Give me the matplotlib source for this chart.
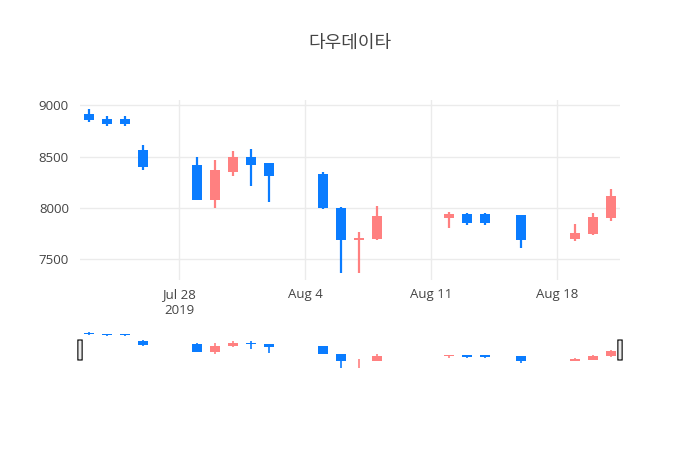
import matplotlib
matplotlib.use('Agg')
import matplotlib.pyplot as plt
import matplotlib.dates as mdates
from matplotlib.patches import FancyBboxPatch
import datetime as dt

plt.rcParams['font.family'] = ['Open Sans', 'Noto Sans CJK KR', 'DejaVu Sans']

dates = ['2019-07-23','2019-07-24','2019-07-25','2019-07-26','2019-07-29','2019-07-30',
         '2019-07-31','2019-08-01','2019-08-02','2019-08-05','2019-08-06','2019-08-07',
         '2019-08-08','2019-08-12','2019-08-13','2019-08-14','2019-08-16','2019-08-19',
         '2019-08-20','2019-08-21']
opens  = [8910,8870,8870,8560,8420,8080,8350,8500,8440,8330,8000,7690,7700,7900,7940,7940,7930,7700,7750,7900]
highs  = [8960,8890,8890,8610,8500,8470,8550,8570,8440,8350,8010,7770,8020,7960,7950,7950,7930,7840,7950,8180]
lows   = [8835,8800,8800,8370,8080,8000,8310,8210,8060,7990,7370,7370,7690,7810,7830,7830,7615,7680,7740,7870]
closes = [8860,8820,8820,8400,8080,8370,8500,8420,8310,8000,7690,7710,7920,7940,7850,7850,7690,7760,7910,8120]

INC = '#ff8080'
DEC = '#0a7cff'
TXT = '#444444'

x = [mdates.date2num(dt.datetime.strptime(d, '%Y-%m-%d')) for d in dates]
xmin = mdates.date2num(dt.datetime(2019, 7, 22, 12))
xmax = mdates.date2num(dt.datetime(2019, 8, 21, 12))

fig = plt.figure(figsize=(7, 4.5), dpi=100)
ax = fig.add_axes([80/700, 1-280/450, 540/700, 180/450])
rs = fig.add_axes([80/700, 1-370/450, 540/700, 40/450])

def draw(a, w, lw):
    for xi, o, h, l, c in zip(x, opens, highs, lows, closes):
        col = INC if c >= o else DEC
        a.vlines(xi, l, h, color=col, lw=lw, zorder=3)
        lo, hi = min(o, c), max(o, c)
        a.bar(xi, max(hi - lo, 8), bottom=lo, width=w, color=col, zorder=3, linewidth=0)

draw(ax, 0.6, 1.6)
ax.set_xlim(xmin, xmax)
ax.set_ylim(7300, 9050)
ax.set_yticks([7500, 8000, 8500, 9000])
ax.set_yticklabels(['7500', '8000', '8500', '9000'])
ticks = [mdates.date2num(dt.datetime(2019, 7, 28)), mdates.date2num(dt.datetime(2019, 8, 4)),
         mdates.date2num(dt.datetime(2019, 8, 11)), mdates.date2num(dt.datetime(2019, 8, 18))]
ax.set_xticks(ticks)
ax.set_xticklabels(['Jul 28\n2019', 'Aug 4', 'Aug 11', 'Aug 18'])
ax.grid(True, color='#ebebeb', lw=1, zorder=0)
for s in ax.spines.values():
    s.set_visible(False)
ax.tick_params(length=0, colors=TXT, labelsize=9.5, pad=6)
ax.tick_params(axis='y', pad=8)
for t in ax.get_xticklabels():
    t.set_linespacing(1.3)

draw(rs, 0.6, 1.2)
rs.set_xlim(xmin, xmax)
rs.set_ylim(7300, 9050)
rs.set_xticks([]); rs.set_yticks([])
for s in rs.spines.values():
    s.set_visible(False)
for xp in (0.0, 1.0):
    rs.add_patch(FancyBboxPatch((xp - 0.004, 0.25), 0.008, 0.5, boxstyle='round,pad=0,rounding_size=0.003',
                                transform=rs.transAxes, facecolor='#eeeeee', edgecolor='#333333',
                                lw=1, clip_on=False, zorder=5))

fig.text(350/700, 1-43/450, '다우데이타', ha='center', va='center', fontsize=13, color=TXT)
fig.savefig('out.png', dpi=100)
